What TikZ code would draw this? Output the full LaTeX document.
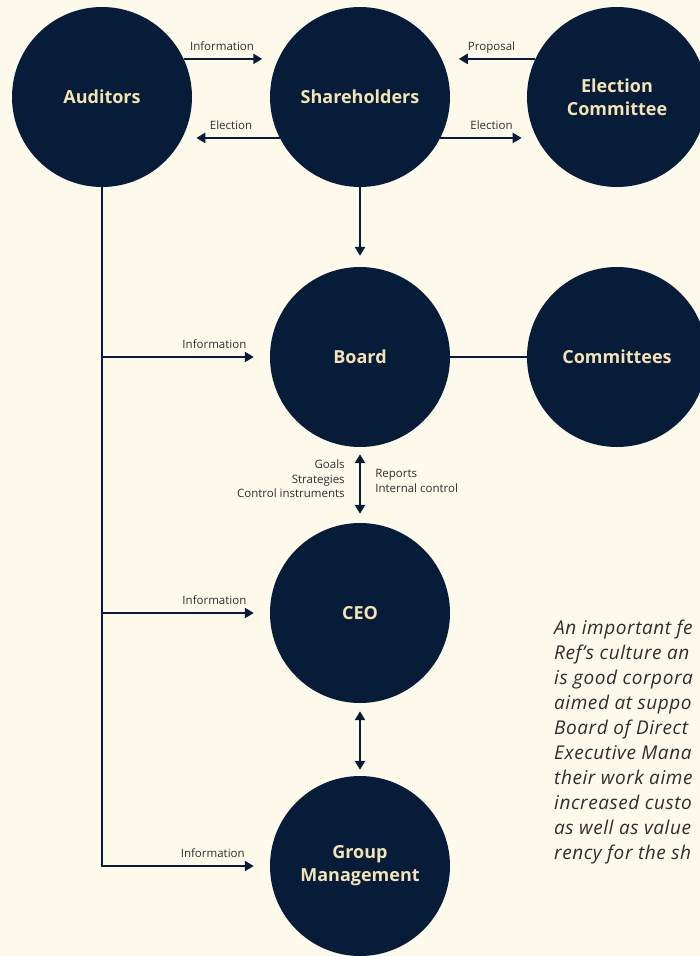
\documentclass[tikz,border=0pt]{standalone}
\usepackage{fontspec}
\setmainfont{Open Sans}
\usetikzlibrary{arrows.meta,positioning}

\definecolor{navy}{HTML}{071C38}
\definecolor{cream}{HTML}{FDF9EB}
\definecolor{sand}{HTML}{F3E3B5}
\definecolor{ink}{HTML}{2E2E2E}

\tikzset{
  body/.style={circle, fill=navy, minimum size=180pt, inner sep=0pt,
    text=sand, align=center, font=\fontsize{18}{23}\selectfont\bfseries},
  link/.style={draw=navy, line width=2.6pt},
  arr/.style={link, -{Triangle[width=10pt,length=9pt]}},
  twoway/.style={link, {Triangle[width=10pt,length=9pt]}-{Triangle[width=10pt,length=9pt]}},
  tag/.style={text=ink, inner sep=1pt, font=\fontsize{11.5}{14.5}\selectfont},
  flowtag/.style={tag, text height=1.6ex, text depth=0.4ex}
}

\begin{document}
\begin{tikzpicture}[x=1pt, y=-1pt]
    \fill[cream] (0,0) rectangle (700,956);
    \useasboundingbox (0,0) rectangle (700,956);

    % owners and election
    \node[body] (aud) at (102,97) {Auditors};
    \node[body] (sh) at (360,97) {Shareholders};
    \node[body] (ec) at (617,97) {Election\\Committee};

    % board level
    \node[body] (board) at (360,357) {Board};
    \node[body] (comm) at (617,357) {Committees};

    % management
    \node[body] (ceo) at (360,613) {CEO};
    \node[body] (gm) at (360,866) {Group\\Management};

    \draw[arr, shorten >=16pt] (aud.25) -- (sh.155)
        node[flowtag, midway, above=4pt, xshift=-9pt] {Information};
    \draw[arr, shorten >=14pt] (sh.207.8) -- (aud.-27.8)
        node[flowtag, midway, above=4pt] {Election};
    \draw[arr, shorten >=17pt] (ec.155) -- (sh.25)
        node[flowtag, midway, above=4pt, xshift=3pt] {Proposal};
    \draw[arr, shorten >=15pt] (sh.-27.8) -- (ec.207.8)
        node[flowtag, midway, above=4pt, xshift=3pt] {Election};

    \draw[arr, shorten >=11pt] (sh.south) -- (board.north);
    \draw[link] (board) -- (comm);

    % auditors report down the line
    \draw[arr, shorten >=16pt] (aud.south) |- (gm.west)
        node[flowtag, pos=0.83, above=4pt] {Information};
    \draw[arr, shorten >=16pt] (aud.south |- board.west) -- (board.west)
        node[flowtag, pos=0.67, above=4pt] {Information};
    \draw[arr, shorten >=16pt] (aud.south |- ceo.west) -- (ceo.west)
        node[flowtag, pos=0.67, above=4pt] {Information};

    \draw[twoway, shorten <=7pt, shorten >=9pt] (board.south) -- (ceo.north)
        node[tag, midway, anchor=east, xshift=-13pt, yshift=6pt, align=right]
          {Goals\\Strategies\\Control instruments}
        node[tag, midway, anchor=west, xshift=13pt, yshift=4pt, align=left]
          {Reports\\Internal control};
    \draw[twoway, shorten <=8pt, shorten >=6pt] (ceo.south) -- (gm.north);

    \node[anchor=north west, inner sep=0pt, align=left, text=ink,
          font=\fontsize{19}{25}\selectfont\itshape\addfontfeatures{LetterSpace=3}]
          (note) at (554,620)
      {An important fe\\Ref’s culture an\\is good corpora\\aimed at suppo\\Board of Direct\\Executive Mana\\their work aime\\increased custo\\as well as value\\rency for the sh};
\end{tikzpicture}
\end{document}
